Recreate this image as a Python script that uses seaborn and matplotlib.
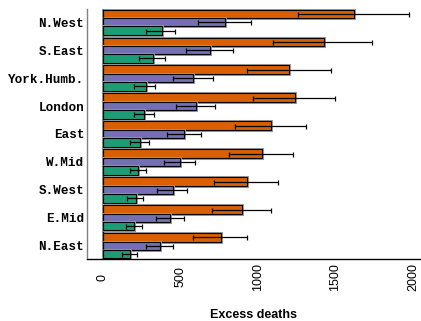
import matplotlib
matplotlib.use("Agg")
import matplotlib.pyplot as plt
import matplotlib.patheffects as pe
import numpy as np
import pandas as pd
import seaborn as sns

regions = ["N.West", "S.East", "York.Humb.", "London", "East",
           "W.Mid", "S.West", "E.Mid", "N.East"]
series = ["Series A", "Series B", "Series C"]
colors = ["#D95F02", "#7570B3", "#1B9E77"]

# estimates and interval bounds
vals_a = [1618, 1425, 1200, 1237, 1086, 1027, 930, 895, 761]
low_a = [1261, 1096, 927, 971, 854, 810, 715, 706, 579]
high_a = [1975, 1739, 1469, 1497, 1310, 1226, 1127, 1083, 932]

vals_b = [785, 690, 583, 598, 525, 499, 452, 432, 368]
low_b = [615, 533, 452, 471, 415, 392, 346, 340, 279]
high_b = [955, 841, 712, 720, 632, 594, 544, 523, 452]

vals_c = [379, 323, 275, 267, 241, 228, 211, 200, 172]
low_c = [277, 234, 200, 198, 176, 172, 155, 146, 123]
high_c = [462, 400, 335, 327, 295, 280, 260, 250, 217]

xticks = [0, 500, 1000, 1500, 2000]

df = pd.DataFrame({
    "region": regions * 3,
    "series": np.repeat(series, len(regions)),
    "value": vals_a + vals_b + vals_c,
    "low": low_a + low_b + low_c,
    "high": high_a + high_b + high_c,
})

fig = plt.figure(figsize=(4.21, 3.21), dpi=100)
ax = fig.add_axes([87 / 421, 1 - 259 / 321, (421 - 87) / 421, 250 / 321])

sns.barplot(
    data=df, y="region", x="value", hue="series",
    order=regions, hue_order=series, palette=colors,
    orient="h", width=0.9, errorbar=None, saturation=1,
    edgecolor="black", linewidth=0.8, ax=ax,
)
ax.get_legend().remove()

for patch in ax.patches:
    patch.set_path_effects([pe.withStroke(linewidth=2.2, foreground="#9a9a9a")])

# error bars placed on the drawn bars
for cont, s in zip(ax.containers, series):
    sub = df[df["series"] == s].set_index("region").loc[regions]
    ys = [b.get_y() + b.get_height() / 2 for b in cont]
    ax.errorbar(
        sub["value"], ys,
        xerr=[sub["value"] - sub["low"], sub["high"] - sub["value"]],
        fmt="none", ecolor="black", elinewidth=0.9, capsize=1.8, capthick=0.9,
    )

ax.axvline(0, color="black", linestyle=":", linewidth=0.9)

ax.set_xlim(-103, 2052)
ax.set_ylim(8.47, -0.47)

ax.set_xticks(xticks, [str(t) for t in xticks], rotation=90, va="center",
              family="Liberation Sans", fontsize=9)
ax.tick_params(axis="x", length=0, pad=13)
ax.tick_params(axis="y", length=0, pad=2)
for lab in ax.get_yticklabels():
    lab.set_family("Liberation Mono")
    lab.set_fontweight("bold")
    lab.set_fontsize(9.1)

ax.set_ylabel("")
ax.set_xlabel("Excess deaths", family="Liberation Sans", fontweight="bold",
              fontsize=9, va="center")
ax.xaxis.set_label_coords(0.5, -0.224)

for side in ["top", "right"]:
    ax.spines[side].set_visible(False)
ax.spines["left"].set_color("#808080")
ax.spines["bottom"].set_color("black")
ax.spines["left"].set_linewidth(1.0)
ax.spines["bottom"].set_linewidth(1.0)

fig.savefig("out.png", dpi=100)
